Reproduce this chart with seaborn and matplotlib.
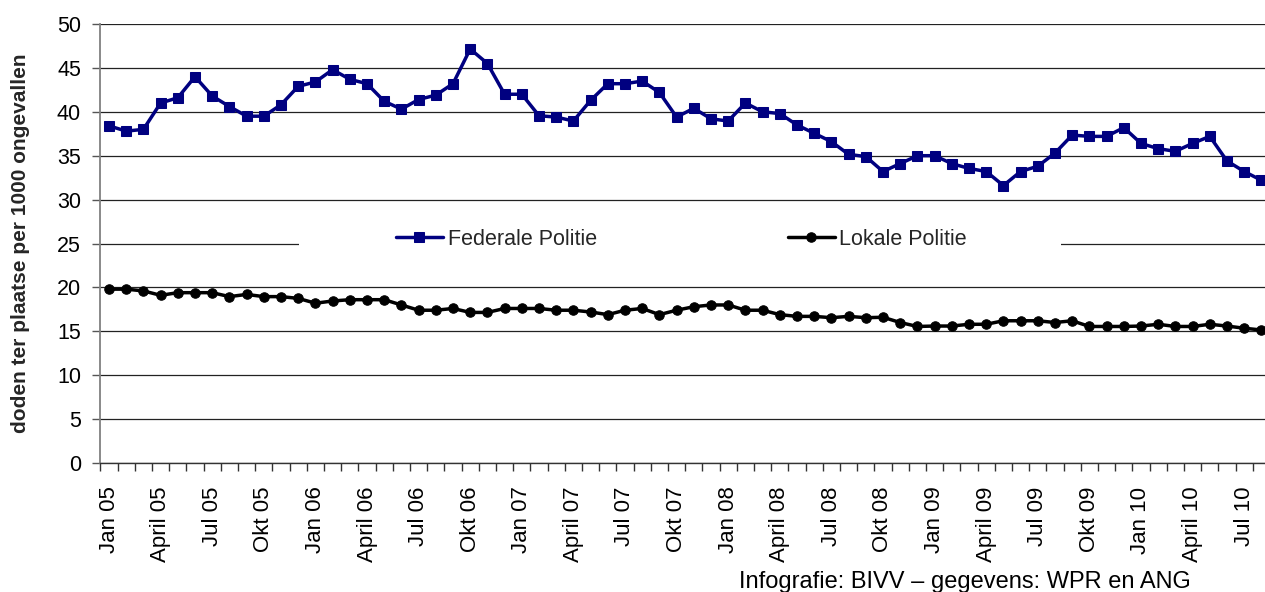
import numpy as np
import pandas as pd
import matplotlib
matplotlib.use("Agg")
import matplotlib.pyplot as plt
import matplotlib.transforms as mtransforms
from matplotlib.patches import Rectangle
import seaborn as sns

# ---- data ----
federale = [38.4, 37.8, 38.0, 41.0, 41.6, 44.0, 41.8, 40.6, 39.5, 39.5,
            40.8, 42.9, 43.4, 44.8, 43.7, 43.2, 41.2, 40.3, 41.4, 41.9,
            43.2, 47.15, 45.5, 42.0, 42.0, 39.55, 39.4, 38.95, 41.3, 43.2,
            43.2, 43.5, 42.2, 39.4, 40.4, 39.2, 38.95, 41.0, 40.0, 39.8,
            38.5, 37.55, 36.6, 35.15, 34.9, 33.2, 34.1, 35.0, 35.0, 34.1,
            33.55, 33.2, 31.6, 33.2, 33.8, 35.3, 37.35, 37.2, 37.2, 38.2,
            36.4, 35.8, 35.5, 36.4, 37.2, 34.4, 33.2, 32.2]
lokale = [19.8, 19.8, 19.6, 19.1, 19.4, 19.4, 19.4, 18.95, 19.2, 18.95,
          18.95, 18.75, 18.2, 18.45, 18.6, 18.6, 18.6, 18.0, 17.4, 17.4,
          17.6, 17.15, 17.15, 17.6, 17.6, 17.6, 17.4, 17.4, 17.2, 16.9,
          17.4, 17.6, 16.9, 17.4, 17.8, 18.0, 18.0, 17.4, 17.4, 16.9,
          16.7, 16.7, 16.55, 16.7, 16.55, 16.6, 16.0, 15.55, 15.6, 15.6,
          15.8, 15.8, 16.2, 16.2, 16.2, 16.0, 16.2, 15.55, 15.55, 15.55,
          15.6, 15.8, 15.55, 15.55, 15.8, 15.6, 15.35, 15.15]
tick_labels = ["Jan 05", "April 05", "Jul 05", "Okt 05",
               "Jan 06", "April 06", "Jul 06", "Okt 06",
               "Jan 07", "April 07", "Jul 07", "Okt 07",
               "Jan 08", "April 08", "Jul 08", "Okt 08",
               "Jan 09", "April 09", "Jul 09", "Okt 09",
               "Jan 10", "April 10", "Jul 10"]
series_names = ["Federale Politie", "Lokale Politie"]
y_label = "doden ter plaatse per 1000 ongevallen"
credit = "Infografie: BIVV \u2013 gegevens: WPR en ANG"

n = len(federale)
months = np.arange(n)
df_fed = pd.DataFrame({"maand": months, "waarde": federale})
df_lok = pd.DataFrame({"maand": months, "waarde": lokale})

# ---- style ----
sns.set_theme(style="white")
plt.rcParams["font.family"] = ["Liberation Sans", "DejaVu Sans"]

W, H = 1265, 592
fig = plt.figure(figsize=(W / 100, H / 100), dpi=100)
ax_left, ax_w = 100.4 / W, 1169.6 / W
ax_bot, ax_h = (H - 463) / H, 439 / H
ax = fig.add_axes([ax_left, ax_bot, ax_w, ax_h])

navy = "#000080"
sns.lineplot(data=df_fed, x="maand", y="waarde", ax=ax, color=navy,
             linewidth=2.5, marker="s", markersize=7.2,
             markerfacecolor=navy, markeredgecolor=navy,
             label=series_names[0], zorder=3)
sns.lineplot(data=df_lok, x="maand", y="waarde", ax=ax, color="black",
             linewidth=2.5, marker="o", markersize=6.8,
             markerfacecolor="black", markeredgecolor="black",
             label=series_names[1], zorder=3)

ax.set_xlim(-0.5, n - 0.5)
ax.set_ylim(0, 50)
ax.set_yticks(np.arange(0, 51, 5))
ax.set_xticks(np.arange(0, n, 3))
ax.set_xticklabels(tick_labels, rotation=90)
ax.set_xticks(np.arange(-0.5, n, 1), minor=True)
ax.tick_params(axis="x", which="major", length=0, pad=17, labelsize=16,
               colors="black")
ax.tick_params(axis="x", which="minor", length=6, width=1, color="#333333",
               direction="out", bottom=True)
ax.tick_params(axis="y", which="major", length=6, width=1, color="#555555",
               direction="out", left=True, pad=8, labelsize=15.5,
               labelcolor="black")

ax.yaxis.grid(True, color="#222222", linewidth=0.9)
ax.xaxis.grid(False)
ax.set_axisbelow(True)
for s in ["top", "right"]:
    ax.spines[s].set_visible(False)
ax.spines["left"].set_color("#808080")
ax.spines["left"].set_linewidth(1.3)
ax.spines["bottom"].set_color("#333333")
ax.spines["bottom"].set_linewidth(1.0)

ax.set_xlabel("")
ax.set_ylabel(y_label, fontsize=15, fontweight="bold", va="center")
ax.yaxis.set_label_coords((21 - 100.4) / 1169.6, 0.5)

# white band behind legend interrupting the 25 gridline
trans = mtransforms.blended_transform_factory(ax.transAxes, ax.transData)
ax.add_patch(Rectangle(((299 - 100.4) / 1169.6, 24.0),
                       (1061 - 299) / 1169.6, 2.0, transform=trans,
                       facecolor="white", edgecolor="none", zorder=1))

leg = ax.legend(loc="center", bbox_to_anchor=(0.497, 0.510), ncol=2,
                frameon=False, handlelength=2.15, handletextpad=0.23,
                columnspacing=8.9, fontsize=15.5, borderpad=0)

fig.text(739 / W, 1 - 588 / H, credit, ha="left", va="baseline",
         fontsize=17, color="black")

fig.savefig("out.png", dpi=100, facecolor="white")
